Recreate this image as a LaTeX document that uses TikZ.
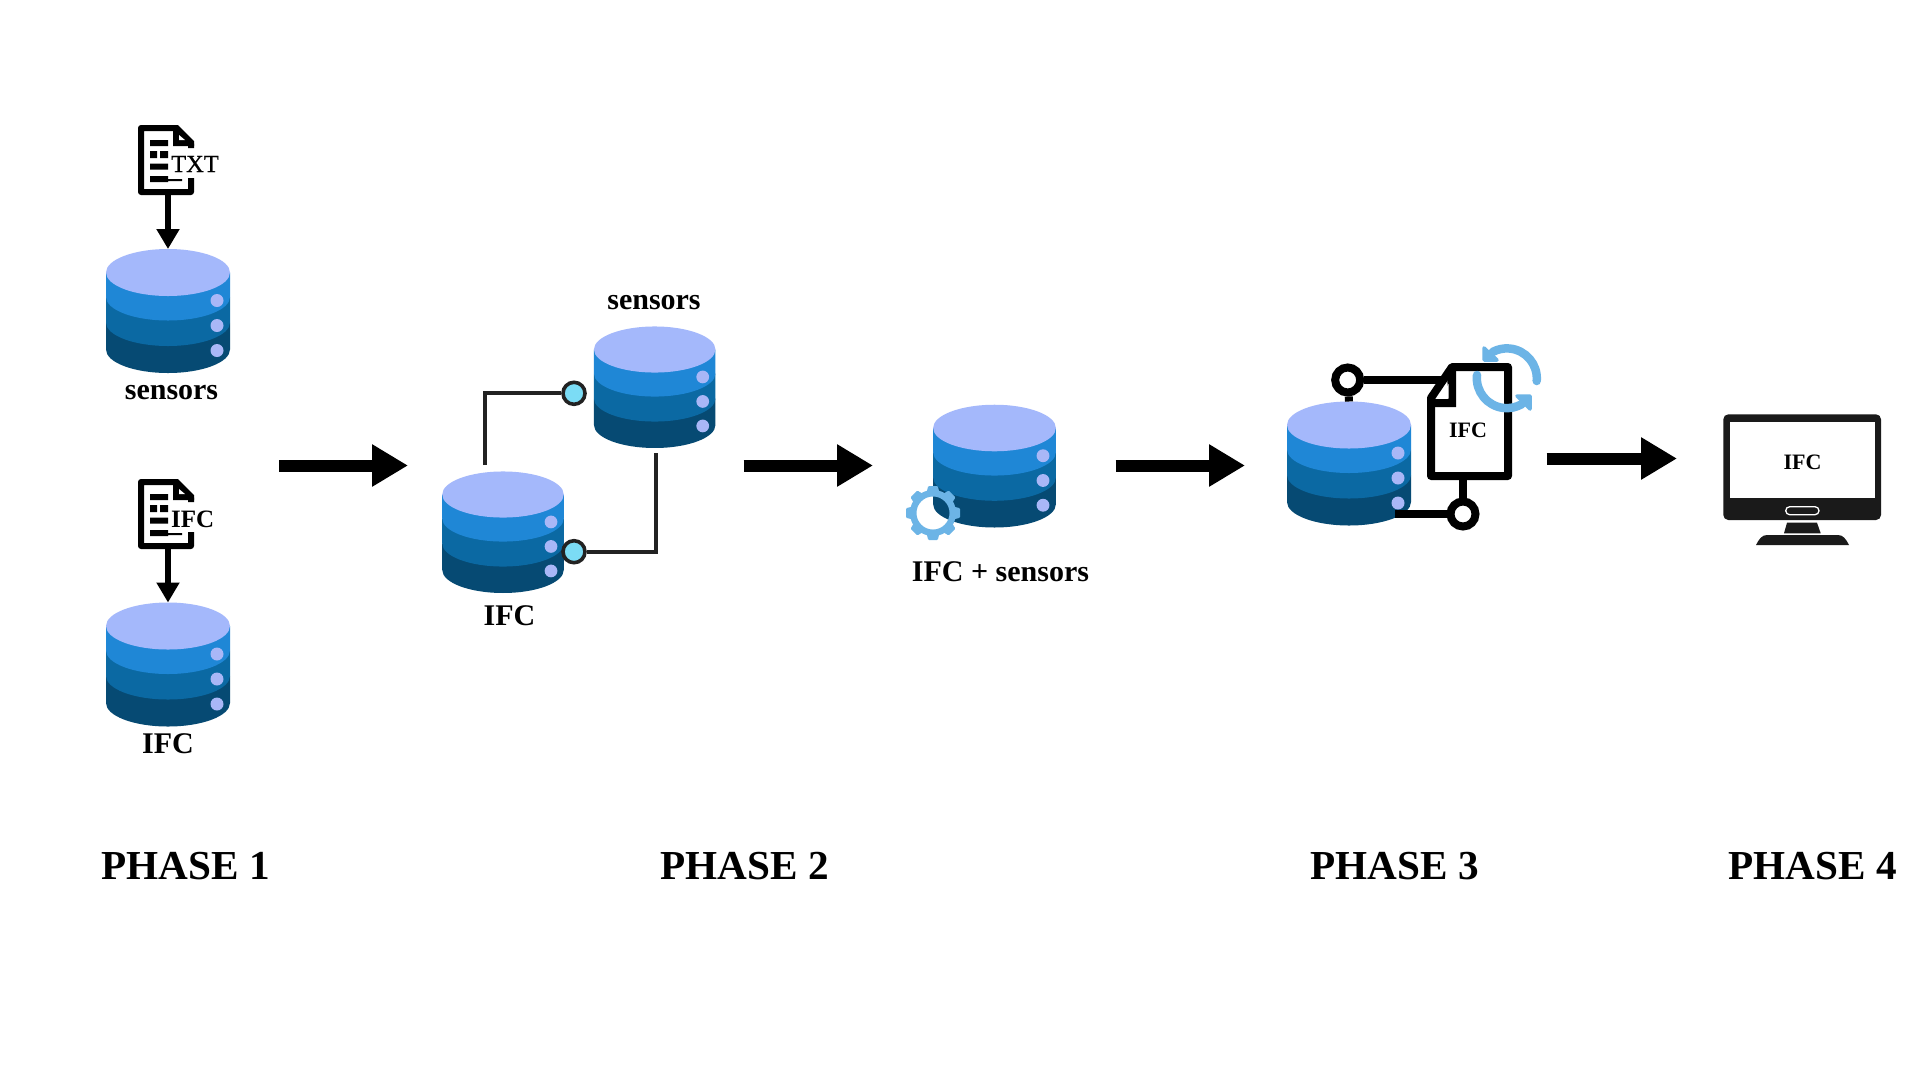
\documentclass[tikz,border=0pt]{standalone}
\usepackage{fontspec}
\setmainfont{Liberation Serif}
\usetikzlibrary{arrows.meta}
\definecolor{dbtop}{HTML}{A4B8FB}
\definecolor{dbone}{HTML}{1F87D6}
\definecolor{dbtwo}{HTML}{0B69A3}
\definecolor{dbthree}{HTML}{064A73}
\definecolor{dbdot}{HTML}{A9B7F7}
\definecolor{gearblue}{HTML}{6CB4E6}
\definecolor{plug}{HTML}{7BDCF5}
\definecolor{wire}{HTML}{222222}
\definecolor{screenblack}{HTML}{1A1A1A}
\tikzset{
  bigarrow/.style={line width=12pt,-{Triangle[length=36pt,width=40pt]}},
  smallarrow/.style={line width=6pt,-{Triangle[length=20pt,width=22pt]},shorten >=0pt},
  wireline/.style={draw=wire,line width=4pt},
  plugnode/.style={circle,draw=wire,line width=3.6pt,fill=plug,minimum size=22pt,inner sep=0pt},
  thickline/.style={draw=black,line width=8pt},
  ringnode/.style={circle,draw=black,line width=8pt,fill=white,minimum size=25pt,inner sep=0pt},
  lbl/.style={inner sep=0pt,font=\fontsize{30}{32}\selectfont\bfseries},
  phase/.style={inner sep=0pt,font=\fontsize{41.2}{44}\selectfont\bfseries},
  doctext/.style={inner sep=0pt,font=\fontsize{24.5}{26}\selectfont\addfontfeature{FakeBold=0.6}},
  smalltext/.style={inner sep=0pt,font=\fontsize{22}{24}\selectfont\bfseries},
  syncline/.style={draw=gearblue,line width=8.5pt,line cap=round},
  synchead/.style={fill=gearblue,draw=gearblue,line join=round,line width=3.5pt},
}
% database: name, centre x, y of the top ellipse centre, scale
\newcommand{\dbicon}[4]{%
  \begin{scope}[shift={(#2,#3)},scale=#4]
    \fill[dbthree] (-62,50) -- (-62,77) arc[start angle=180,end angle=0,x radius=62,y radius=23.5] -- (62,50) -- cycle;
    \fill[dbtwo] (-62,24.5) -- (-62,50) arc[start angle=180,end angle=0,x radius=62,y radius=23.5] -- (62,24.5) -- cycle;
    \fill[dbone] (-62,0) -- (-62,24.5) arc[start angle=180,end angle=0,x radius=62,y radius=23.5] -- (62,0) -- cycle;
    \fill[dbtop] (0,0) ellipse[x radius=62,y radius=23.5];
    \fill[dbdot] (49,28) circle[radius=6.5] (49,53) circle[radius=6.5] (49,78) circle[radius=6.5];
    \coordinate (#1) at (0,38);
    \coordinate (#1top) at (0,-23.5);
  \end{scope}}
% text document icon: name, y offset
\newcommand{\docicon}[2]{%
  \begin{scope}[shift={(0,#2)}]
    \draw[black,line width=6pt,line join=round] (191,148) -- (191,143.5) -- (176,128) -- (141,128) -- (141,192) -- (191,192) -- (191,178);
    \fill[black] (173,125) -- (178,125) -- (194,141) -- (194,146) -- (173,146) -- cycle;
    \fill[white] (179,135) -- (179,140) -- (185,140) -- cycle;
    \fill[black] (150,140) rectangle (168,146)
      (150,151) rectangle (157,158) (160,151) rectangle (168,158)
      (150,163.5) rectangle (168,169.5)
      (150,176) rectangle (168,182) (168,179) rectangle (182,181);
    \coordinate (#1) at (168,195);
  \end{scope}}
\begin{document}
\begin{tikzpicture}[x=1pt,y=-1pt]
\useasboundingbox (0,0) rectangle (1920,1080);
\fill[white] (0,0) rectangle (1920,1080);

% ---- phase 1
\docicon{docA}{0}
\dbicon{dbA}{168}{272.5}{1}
\draw[smallarrow] (docA) -- (dbAtop);
\node[doctext,anchor=base west] (txtA) at (171,172) {TXT};
\node[lbl] (lblA) at (171.5,393) {sensors};

\docicon{docB}{354}
\dbicon{dbB}{168}{626}{1}
\draw[smallarrow] (docB) -- (dbBtop);
\node[doctext,font=\fontsize{25}{26}\selectfont\bfseries,anchor=base west] (txtB) at (171,527) {IFC};
\node[lbl] (lblB) at (168,743.5) {IFC};

% ---- phase 2
\dbicon{dbC}{654.7}{349.5}{0.98}
\dbicon{dbD}{503}{494.5}{0.98}
\node[lbl] (lblC) at (654,303) {sensors};
\node[lbl] (lblD) at (509.5,615.5) {IFC};
\node[plugnode] (plugC) at (574,393.3) {};
\node[plugnode] (plugD) at (574,551.7) {};
\coordinate (wireC) at (485.3,465);
\coordinate (wireD) at (655.7,453);
\draw[wireline] (wireC) |- (plugC);
\draw[wireline] (wireD) |- (plugD);

\dbicon{dbE}{994.5}{428}{0.99}
\node[lbl] (lblE) at (1000.5,572) {IFC + sensors};
% gear
\begin{scope}[shift={(933,513)}]
  \draw[gearblue,line width=6.5pt] (0,0) circle[radius=19.8];
  \foreach \a in {0,45,...,315}{
    \begin{scope}[rotate=\a]
      \fill[gearblue,rounded corners=1pt] (-6.5,-20) -- (-4.8,-27) -- (4.8,-27) -- (6.5,-20) -- cycle;
    \end{scope}}
\end{scope}

% ---- phase 3
\dbicon{dbF}{1349}{425}{1}
\node[ringnode] (ringF) at (1347.7,380) {};
\node[ringnode] (ringG) at (1463,514) {};
\coordinate (docFfold) at (1452,380);
\coordinate (docFbottom) at (1463,476);
\coordinate (dbFside) at (1395,514);
\draw[thickline] (ringG) -- (dbFside);
\draw[thickline] (ringF) -- (docFfold);
\draw[thickline] (ringF) -- (dbFtop);
\draw[thickline] (ringG) -- (docFbottom);
\draw[draw=black,fill=white,line width=8pt,line join=round] (1452,367) -- (1508,367) -- (1508,476) -- (1431,476) -- (1431,398) -- cycle;
\fill[black] (1447,368) -- (1456,368) -- (1456,407) -- (1430,407) -- (1430,399) -- (1448,399) -- cycle;
\fill[white] (1440,398.5) -- (1448.5,398.5) -- (1448.5,384) -- cycle;
\node[smalltext] (txtF) at (1468,430) {IFC};
\draw[syncline] (1536.7,381) arc[start angle=5,end angle=-118,radius=30];
\fill[synchead] (1484,348) -- (1484,360) -- (1497,360) -- cycle;
\draw[syncline] (1477,375) arc[start angle=186,end angle=60,radius=30];
\fill[synchead] (1530,396) -- (1530,409) -- (1517,396) -- cycle;

% ---- phase 4
\fill[screenblack,rounded corners=5pt] (1723.3,414.3) rectangle (1881,520);
\fill[white] (1730,421.7) rectangle (1875,498);
\draw[white,line width=1.3pt,rounded corners=4pt] (1785.7,506.7) rectangle (1819,514.7);
\fill[screenblack] (1787,522.7) -- (1817,522.7) -- (1820.7,533.3) -- (1784,533.3) -- cycle;
\fill[screenblack] (1756,545) .. controls (1759,539) and (1762,535) .. (1767,535) -- (1838,535) .. controls (1843,535) and (1846,539) .. (1849,545) -- cycle;
\node[smalltext] (txtG) at (1802.5,462.5) {IFC};

% ---- arrows between phases
\coordinate (a1s) at (279,465.5); \coordinate (a1e) at (408,465.5);
\coordinate (a2s) at (743.5,465.5); \coordinate (a2e) at (873,465.5);
\coordinate (a3s) at (1115.5,465.5); \coordinate (a3e) at (1245,465.5);
\coordinate (a4s) at (1546.5,458.5); \coordinate (a4e) at (1677,458.5);
\draw[bigarrow] (a1s) -- (a1e);
\draw[bigarrow] (a2s) -- (a2e);
\draw[bigarrow] (a3s) -- (a3e);
\draw[bigarrow] (a4s) -- (a4e);

% ---- phase titles
\node[phase] (ph1) at (185.5,866) {PHASE 1};
\node[phase] (ph2) at (744.5,866) {PHASE 2};
\node[phase] (ph3) at (1394.5,866) {PHASE 3};
\node[phase] (ph4) at (1812.5,866) {PHASE 4};
\end{tikzpicture}
\end{document}
